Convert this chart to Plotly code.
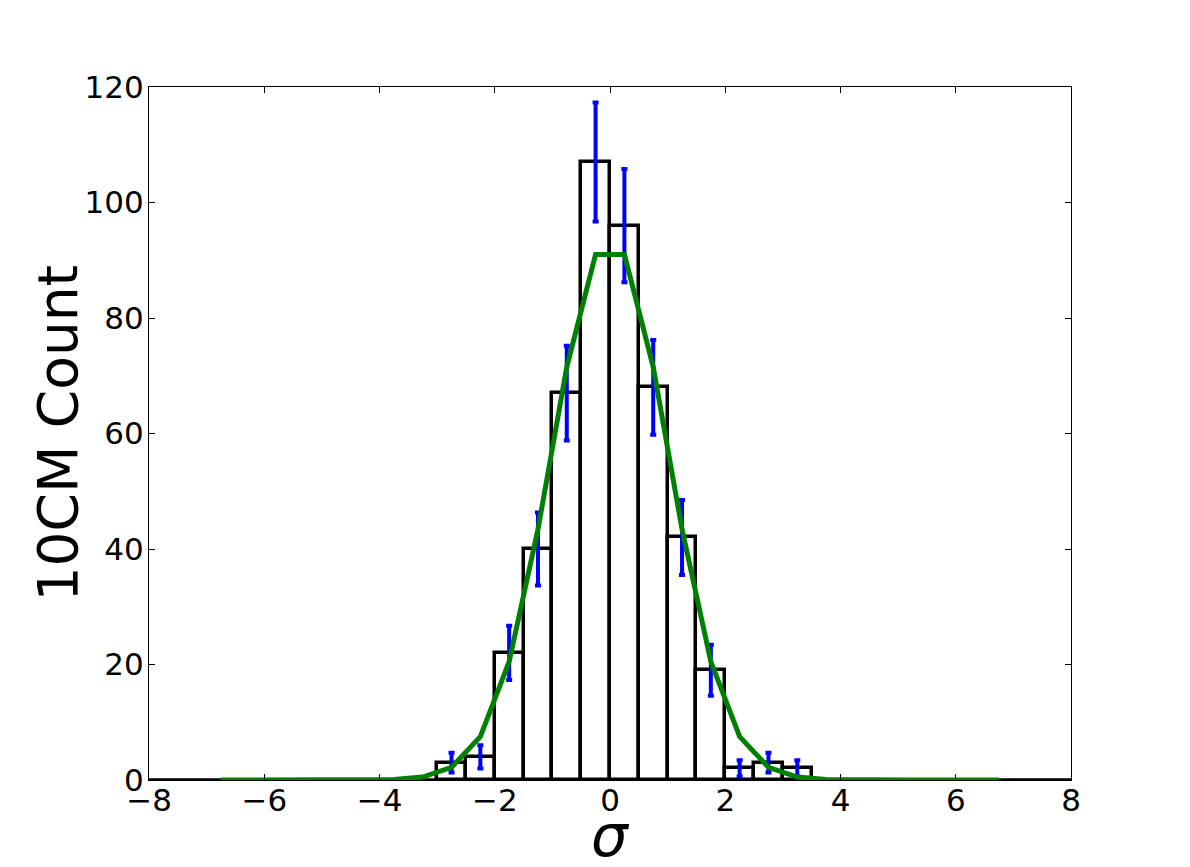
import plotly.graph_objects as go

# histogram bins (width 0.5)
bin_centers = [-2.75, -2.25, -1.75, -1.25, -0.75, -0.25, 0.25, 0.75, 1.25, 1.75, 2.25, 2.75, 3.25]
counts = [3, 4, 22, 40, 67, 107, 96, 68, 42, 19, 2, 3, 2]
count_err = [1.7, 2.0, 4.7, 6.3, 8.2, 10.3, 9.8, 8.2, 6.5, 4.4, 1.4, 1.7, 1.4]

# gaussian model curve
model_x = [-6.75, -6.25, -5.75, -5.25, -4.75, -4.25, -3.75, -3.25, -2.75, -2.25, -1.75,
           -1.25, -0.75, -0.25, 0.25, 0.75, 1.25, 1.75, 2.25, 2.75, 3.25, 3.75, 4.25,
           4.75, 5.25, 5.75, 6.25, 6.75]
model_y = [0, 0, 0, 0, 0, 0, 0.1, 0.5, 2.2, 7.5, 20.5,
           43.4, 71.5, 91.0, 91.0, 71.5, 43.4, 20.5, 7.5, 2.2, 0.5, 0.1, 0,
           0, 0, 0, 0, 0]

baseline_x = [-8, 8]
baseline_y = [0, 0]

fig = go.Figure()

fig.add_trace(go.Scatter(x=baseline_x, y=baseline_y, mode="lines",
                         line=dict(color="black", width=3.5), showlegend=False))

fig.add_trace(go.Bar(x=bin_centers, y=counts, width=0.5,
                     marker=dict(color="white", line=dict(color="black", width=3.5)),
                     showlegend=False))

fig.add_trace(go.Scatter(x=bin_centers, y=counts, mode="markers",
                         marker=dict(size=1, color="blue", opacity=0),
                         error_y=dict(type="data", array=count_err, visible=True,
                                      color="blue", thickness=4, width=3),
                         showlegend=False))

fig.add_trace(go.Scatter(x=model_x, y=model_y, mode="lines",
                         line=dict(color="green", width=5), showlegend=False))

axis_font = dict(family="DejaVu Sans", size=31, color="black")

# page body has an 8px margin, so the figure is shrunk to fit the window
fig.update_layout(
    width=1174, height=851,
    margin=dict(l=141, r=111, t=79, b=79),
    plot_bgcolor="white", paper_bgcolor="white",
    bargap=0,
    xaxis=dict(range=[-8, 8], tickvals=[-8, -6, -4, -2, 0, 2, 4, 6, 8],
               ticks="inside", ticklen=6, tickcolor="black", mirror="ticks",
               showline=True, linecolor="black", linewidth=1.2,
               showgrid=False, zeroline=False, tickfont=axis_font,
               ticklabelstandoff=-7),
    yaxis=dict(range=[0, 120], tickvals=[0, 20, 40, 60, 80, 100, 120],
               ticks="inside", ticklen=6, tickcolor="black", mirror="ticks",
               showline=True, linecolor="black", linewidth=1.2,
               showgrid=False, zeroline=False, tickfont=axis_font,
               ticklabelstandoff=-2),
    annotations=[
        dict(text="<i>σ</i>", xref="paper", yref="paper", x=0.5, y=0,
             xanchor="center", yanchor="middle", yshift=-56, showarrow=False,
             font=dict(family="DejaVu Sans", size=58, color="black")),
        dict(text="10CM Count", xref="paper", yref="paper", x=0, y=0.5,
             xanchor="center", yanchor="middle", xshift=-92, textangle=-90,
             showarrow=False,
             font=dict(family="DejaVu Sans", size=55, color="black")),
    ],
)

fig.write_html("out.html")
